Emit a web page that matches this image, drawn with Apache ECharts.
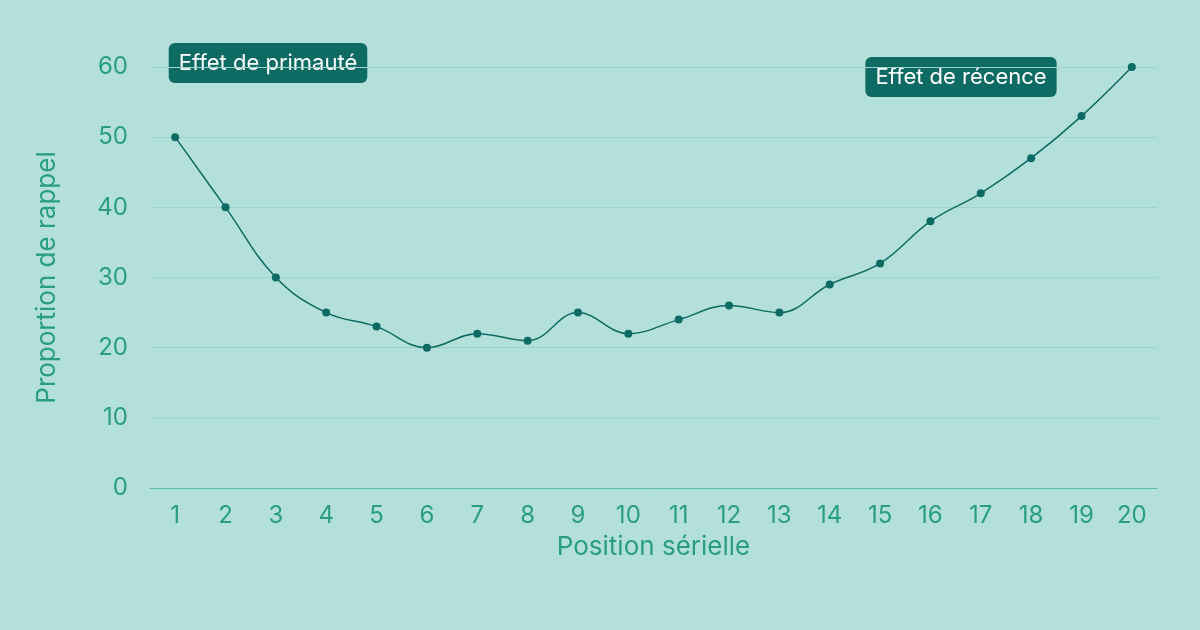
<!DOCTYPE html>
<html><head><meta charset="utf-8">
<script src="https://cdn.jsdelivr.net/npm/echarts@6/dist/echarts.min.js"></script>
<style>html,body{margin:0;background:#b3e0da}#c{width:1200px;height:630px}</style>
</head><body><div id="c"></div>
<script>
const positions = ['1','2','3','4','5','6','7','8','9','10','11','12','13','14','15','16','17','18','19','20'];
const recall = [50, 40, 30, 25, 23, 20, 22, 21, 25, 22, 24, 26, 25, 29, 32, 38, 42, 47, 53, 60];
const notes = [['Effet de primauté', 268, 63], ['Effet de récence', 961, 77]];

const chart = echarts.init(document.getElementById('c'));
const accent = '#2a9d83';
const dark = '#0e6b63';
chart.setOption({
  backgroundColor: '#b3e0da',
  textStyle: { fontFamily: 'Inter' },
  grid: { left: 150, right: 43, top: 67, bottom: 142 },
  xAxis: {
    type: 'category', data: positions, boundaryGap: true,
    name: 'Position sérielle', nameLocation: 'middle', nameGap: 46,
    nameTextStyle: { color: accent, fontSize: 26 },
    axisLine: { lineStyle: { color: '#5cbfa6', width: 1 } },
    axisTick: { show: false },
    axisLabel: { color: accent, fontSize: 24, margin: 16 }
  },
  yAxis: {
    type: 'value', min: 0, max: 60, interval: 10,
    name: 'Proportion de rappel', nameLocation: 'middle', nameGap: 90,
    nameTextStyle: { color: accent, fontSize: 26 },
    axisLabel: { color: accent, fontSize: 24, margin: 22 },
    splitLine: { lineStyle: { color: '#9dd3cb' } }
  },
  series: [{
    type: 'line', data: recall, smooth: 0.4,
    symbol: 'circle', symbolSize: 8,
    lineStyle: { color: dark, width: 1.5 },
    itemStyle: { color: dark }
  }],
  graphic: notes.map(([t, x, y]) => ({
    type: 'text', x: x, y: y,
    style: {
      text: t, fill: '#fff', fontSize: 22, fontFamily: 'Inter',
      align: 'center', verticalAlign: 'middle',
      backgroundColor: dark, padding: [9, 10], borderRadius: 6
    }
  }))
});
</script></body></html>
